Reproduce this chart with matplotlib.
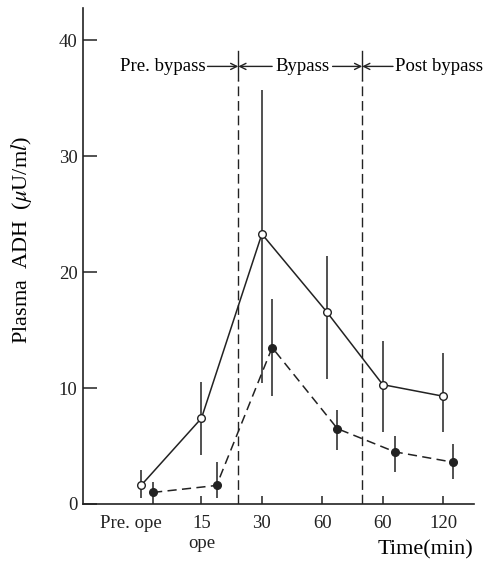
import numpy as np
import matplotlib
matplotlib.use("Agg")
import matplotlib.pyplot as plt

# ---------------------------------------------------------------------------
# Datos (ADH plasmática, media ± DE)
# ---------------------------------------------------------------------------
tick_labels = ["Pre. ope", "15\nope", "30", "60", "60", "120"]
tick_pos = [-0.17, 1, 2, 3, 4, 5]

# serie con círculos abiertos (línea continua)
x_open = [0.0, 1.0, 2.0, 3.07, 4.0, 5.0]
y_open = [1.6, 7.4, 23.3, 16.6, 10.3, 9.3]
hi_open = [2.9, 10.5, 35.7, 21.4, 14.1, 13.0]
lo_open = [0.5, 4.2, 10.4, 10.8, 6.2, 6.2]

# serie con círculos llenos (línea discontinua)
x_fill = [0.2, 1.25, 2.17, 3.25, 4.2, 5.17]
y_fill = [1.0, 1.6, 13.5, 6.5, 4.5, 3.6]
hi_fill = [1.9, 3.6, 17.7, 8.1, 5.9, 5.2]
lo_fill = [0.0, 0.5, 9.3, 4.7, 2.8, 2.2]

# límites entre fases
fases_x = [1.61, 3.66]

plt.rcParams['font.family'] = ['Liberation Serif', 'DejaVu Serif']
plt.rcParams['mathtext.fontset'] = 'stix'

fig = plt.figure(figsize=(5.01, 5.66), dpi=100)
ax = fig.add_axes([83 / 501, 62 / 566, (474 - 83) / 501, (504 - 8) / 566])

lw = 1.1
dash = (0, (6, 3.5))

# barras de error sin tapas
y_open = np.array(y_open)
y_fill = np.array(y_fill)
ax.errorbar(x_open, y_open,
            yerr=[y_open - np.array(lo_open), np.array(hi_open) - y_open],
            fmt='none', ecolor='#222222', elinewidth=lw, capsize=0, zorder=2)
ax.errorbar(x_fill, y_fill,
            yerr=[y_fill - np.array(lo_fill), np.array(hi_fill) - y_fill],
            fmt='none', ecolor='#222222', elinewidth=lw, capsize=0, zorder=2)

ax.plot(x_open, y_open, '-', color='#222222', lw=lw, zorder=3)
ax.plot(x_open, y_open, 'o', ms=5.5, mfc='white', mec='#222222', mew=1.0, zorder=4)
ax.plot(x_fill, y_fill, color='#222222', lw=lw, linestyle=dash, zorder=3)
ax.plot(x_fill, y_fill, 'o', ms=5.5, mfc='#222222', mec='#222222', zorder=4)

# líneas verticales de fases
y_lab = 37.76
for xf in fases_x:
    ax.plot([xf, xf], [0, 36.6], color='#222222', lw=1.0, linestyle=(0, (7, 3.5)), zorder=1)
    ax.plot([xf, xf], [36.6, 39.1], color='#222222', lw=1.0, zorder=1)

fs = 13.5
arr = dict(arrowstyle='->', lw=1.0, color='#222222', shrinkA=0, shrinkB=0,
           mutation_scale=11)
ax.text(1.07, y_lab, "Pre. bypass", ha='right', va='center', fontsize=fs)
ax.annotate('', xy=(fases_x[0], y_lab), xytext=(1.10, y_lab), arrowprops=arr)
ax.annotate('', xy=(fases_x[0], y_lab), xytext=(2.17, y_lab), arrowprops=arr)
ax.text(2.67, y_lab, "Bypass", ha='center', va='center', fontsize=fs)
ax.annotate('', xy=(fases_x[1], y_lab), xytext=(3.17, y_lab), arrowprops=arr)
ax.annotate('', xy=(fases_x[1], y_lab), xytext=(4.17, y_lab), arrowprops=arr)
ax.text(4.21, y_lab, "Post bypass", ha='left', va='center', fontsize=fs)

# ejes
ax.set_xlim(-0.96, 5.51)
ax.set_ylim(0, 42.8)
ax.spines['top'].set_visible(False)
ax.spines['right'].set_visible(False)
for s in ['left', 'bottom']:
    ax.spines[s].set_linewidth(1.2)
    ax.spines[s].set_color('#222222')

ax.set_yticks([0, 10, 20, 30, 40])
ax.tick_params(axis='y', direction='in', length=10, width=1.1, pad=4,
               labelsize=fs, colors='#222222')
ax.set_xticks(tick_pos)
ax.set_xticklabels(tick_labels)
ax.tick_params(axis='x', direction='in', length=6, width=1.1, pad=8,
               labelsize=fs, colors='#222222')
ax.xaxis.get_major_ticks()[0].tick1line.set_visible(False)

ax.set_ylabel(r"Plasma  ADH  ($\mu$U/m$l$)", fontsize=16)
ax.yaxis.set_label_coords(-0.125, 0.532)
fig.text(425 / 501, 1 - 550 / 566, "Time(min)", ha='center', va='center', fontsize=16)

fig.savefig("out.png", dpi=100)
